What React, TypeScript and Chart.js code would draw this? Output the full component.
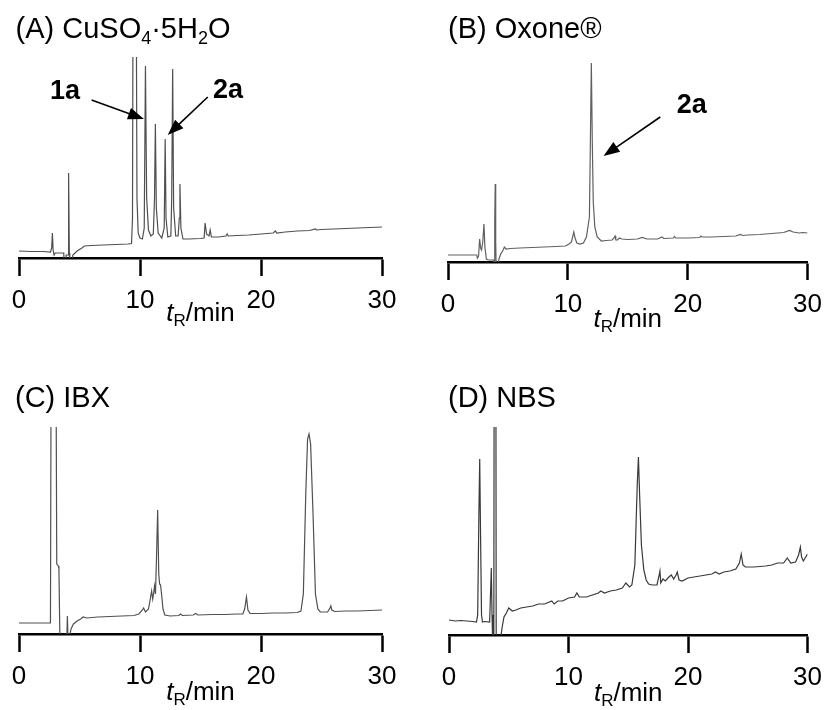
import React, { useEffect, useRef } from 'react';
import { Chart, registerables } from 'chart.js';

Chart.register(...registerables);

const FONT = 'Arial, "Liberation Sans", Helvetica, sans-serif';

// ---- data ----
const timeTicks = [0, 10, 20, 30];
const timeRange = [0, 30];

const titleTextA = ['(A) CuSO', '4', '·5H', '2', 'O'];
const titleTextB = ['(B) Oxone®'];
const titleTextC = ['(C) IBX'];
const titleTextD = ['(D) NBS'];
const axisLabelText = ['t', 'R', '/min'];

// chromatogram traces: [retention time (min), detector signal (a.u.)]
const traceA: [number, number][] = [
  [0, 7], [1, 6.5], [2, 6.5], [2.6, 6], [2.7, 10], [2.76, 25], [2.82, 8], [2.9, 3], [3.0, 5], [3.6, 5],
  [3.7, 5], [3.72, -5], [3.85, -5], [3.9, 3], [4.05, 3], [4.1, 85], [4.16, 5], [4.2, -5], [4.35, -5], [4.45, 3],
  [4.8, 7], [5.2, 10], [5.4, 12], [6, 12.5], [7, 13], [8, 13.5], [9, 14], [9.3, 14.5], [9.38, 40], [9.45, 400],
  [9.65, 400], [9.75, 60], [9.85, 25], [10.0, 20], [10.2, 19], [10.35, 30], [10.45, 192], [10.55, 60], [10.7, 28], [10.9, 22],
  [11.1, 24], [11.2, 60], [11.27, 134], [11.35, 50], [11.5, 25], [11.8, 20], [12.0, 30], [12.08, 119], [12.15, 40], [12.3, 21],
  [12.55, 22], [12.62, 60], [12.7, 189], [12.78, 50], [12.95, 22], [13.15, 22], [13.25, 40], [13.3, 74], [13.38, 30], [13.55, 19],
  [14, 19], [15, 19.5], [15.3, 20], [15.38, 35], [15.5, 24], [15.7, 22], [15.8, 28], [15.9, 21], [16.5, 21], [17.1, 22],
  [17.2, 24], [17.3, 22], [18, 22.5], [19, 23], [20, 24], [21, 25], [21.2, 27], [21.3, 25], [22, 26], [23, 27],
  [24, 27.5], [24.5, 29], [24.6, 28], [25, 28.5], [26, 29], [27, 29.5], [28, 30], [29, 30.5], [30, 31],
];

const traceB: [number, number][] = [
  [0, 7], [1, 7], [2, 7], [2.4, 7], [2.45, 4], [2.55, 6], [2.64, 23], [2.72, 14], [2.8, 12], [2.9, 20],
  [3.0, 38], [3.08, 15], [3.2, 3], [3.35, 2], [3.5, 2], [3.8, 2], [3.85, -5], [3.9, 40], [3.94, 78], [3.98, 20],
  [4.02, -5], [4.15, -5], [4.25, 3], [4.4, 8], [4.6, 12], [4.7, 15], [4.85, 13], [5.2, 13.5], [6, 14], [7, 14.5],
  [8, 15], [9, 15.5], [9.8, 16], [10.1, 18], [10.3, 20], [10.5, 30], [10.6, 24], [10.75, 19], [11, 18], [11.3, 19],
  [11.55, 25], [11.7, 37], [11.8, 45], [11.88, 120], [11.96, 199], [12.04, 120], [12.12, 60], [12.25, 35], [12.45, 25], [12.8, 21],
  [13.2, 21.5], [13.7, 22], [13.85, 24], [13.94, 26], [14.0, 22], [14.15, 22], [14.3, 24], [14.5, 23], [15, 22.5], [15.8, 23],
  [16.2, 24.5], [16.6, 23], [17.5, 23], [17.85, 25], [18, 23.5], [18.8, 24], [18.9, 25.5], [19, 24], [20, 24], [21, 24.5],
  [21.1, 26], [21.2, 25], [22, 25], [23, 25.5], [24, 26], [24.4, 27.5], [24.6, 26.5], [25, 27], [26, 27.5], [27, 28.5],
  [28, 29.5], [28.5, 31.5], [28.8, 30], [29.3, 29], [29.6, 29.5], [30, 29],
];

const traceC: [number, number][] = [
  [0, 11], [1, 11], [2, 11], [2.6, 11], [2.66, 300], [3.05, 300], [3.12, 70], [3.25, 68], [3.3, 65], [3.38, -5],
  [3.95, -5], [4.0, 18], [4.05, -5], [4.15, -5], [4.3, 5], [4.5, 10], [4.8, 13], [5.1, 15], [5.3, 17], [5.6, 16],
  [6.5, 17], [7.5, 17.5], [8.5, 18], [9.5, 18.5], [9.9, 20], [10.2, 24], [10.3, 26], [10.45, 22], [10.7, 25], [10.85, 35],
  [10.96, 43], [11.05, 35], [11.12, 40], [11.2, 48], [11.28, 40], [11.35, 70], [11.46, 124], [11.55, 60], [11.62, 50], [11.7, 49],
  [11.78, 40], [11.9, 25], [12.05, 19], [12.5, 18], [13.2, 18.5], [13.35, 20], [13.5, 18.5], [14.4, 19], [14.6, 20.5], [14.8, 19],
  [16, 19.5], [17, 19.5], [18, 20], [18.5, 20], [18.65, 25], [18.8, 37], [18.92, 24], [19.1, 20.5], [20, 20.5], [21, 21],
  [22, 21], [23, 21.5], [23.3, 23], [23.5, 40], [23.7, 140], [23.85, 195], [23.97, 200], [24.1, 190], [24.3, 120], [24.5, 40],
  [24.7, 25], [24.9, 22], [25.5, 22], [25.7, 26], [25.77, 28], [25.85, 24], [26.1, 22.5], [27, 23], [28, 23], [29, 23.5],
  [30, 24],
];

const traceD: [number, number][] = [
  [0, 15], [0.5, 14], [1, 14.5], [1.5, 14], [2, 13.5], [2.3, 13], [2.4, 20], [2.5, 120], [2.57, 176], [2.64, 100],
  [2.72, 20], [2.8, 13], [3.0, 13.5], [3.4, 13], [3.47, 40], [3.54, 67], [3.6, 20], [3.65, -5], [3.75, -5], [3.78, 300],
  [3.92, 300], [3.95, -5], [4.3, -5], [4.45, 8], [4.6, 18], [4.8, 22], [5.0, 27], [5.1, 26], [5.3, 24], [5.6, 25],
  [6, 27], [6.5, 28], [7, 29], [7.5, 31], [8, 31], [8.6, 34], [8.8, 31], [9.1, 34], [9.5, 34], [10, 37],
  [10.5, 38], [10.7, 42], [10.9, 38], [11.5, 38], [12, 40], [12.5, 42], [12.7, 44], [13, 42], [13.5, 44], [14, 45],
  [14.5, 47], [14.8, 52], [15.1, 48], [15.3, 50], [15.55, 70], [15.75, 150], [15.85, 178], [15.95, 140], [16.1, 90], [16.3, 65],
  [16.5, 55], [16.7, 51], [17, 50], [17.4, 50], [17.55, 58], [17.65, 64], [17.72, 52], [17.9, 56], [18.1, 54], [18.4, 58],
  [18.6, 60], [18.8, 56], [19.0, 60], [19.1, 63], [19.25, 55], [19.5, 54], [20, 57], [20.5, 58], [21, 59], [21.5, 60],
  [22, 61], [22.3, 63], [22.6, 61], [23, 63], [23.5, 64], [24, 66], [24.3, 72], [24.45, 81], [24.6, 70], [24.8, 68],
  [25.5, 68], [26, 68.5], [26.5, 69], [27, 70], [27.5, 72], [28, 72], [28.3, 77], [28.6, 72], [29, 73], [29.25, 80],
  [29.4, 88], [29.5, 78], [29.65, 74], [29.8, 77], [30, 81],
];

// annotations: label, label position, arrow start, arrow tip — in (min, signal) data units
const notesA = [
  { label: '1a', at: [3.8, 166], from: [6.0, 158], to: [10.33, 139] },
  { label: '2a', at: [17.27, 167], from: [15.6, 161], to: [12.29, 123] },
];
const notesB = [
  { label: '2a', at: [20.33, 156], from: [17.71, 145], to: [12.98, 106] },
];

// ---- drawing helpers ----
type Run = { text: string; size: number; dy?: number; italic?: boolean; bold?: boolean };

function fontOf(r: Run) {
  return `${r.italic ? 'italic ' : ''}${r.bold ? 'bold ' : ''}${r.size}px ${FONT}`;
}
function measureRuns(ctx: CanvasRenderingContext2D, runs: Run[]) {
  let w = 0;
  for (const r of runs) { ctx.font = fontOf(r); w += ctx.measureText(r.text).width; }
  return w;
}
function drawRuns(ctx: CanvasRenderingContext2D, runs: Run[], x: number, y: number) {
  for (const r of runs) {
    ctx.font = fontOf(r);
    ctx.fillText(r.text, x, y + (r.dy || 0));
    x += ctx.measureText(r.text).width;
  }
}
function drawArrow(ctx: CanvasRenderingContext2D, x1: number, y1: number, x2: number, y2: number) {
  const a = Math.atan2(y2 - y1, x2 - x1);
  const hl = 16, hw = 6;
  const bx = x2 - hl * Math.cos(a), by = y2 - hl * Math.sin(a);
  ctx.lineWidth = 1.6;
  ctx.beginPath(); ctx.moveTo(x1, y1); ctx.lineTo(bx + 2 * Math.cos(a), by + 2 * Math.sin(a)); ctx.stroke();
  ctx.beginPath();
  ctx.moveTo(x2, y2);
  ctx.lineTo(bx + hw * Math.sin(a), by - hw * Math.cos(a));
  ctx.lineTo(bx - hw * Math.sin(a), by + hw * Math.cos(a));
  ctx.closePath(); ctx.fill();
}

const TITLE = 29, SUB = 18;
const titleRunsA: Run[] = [
  { text: titleTextA[0], size: TITLE }, { text: titleTextA[1], size: SUB, dy: 6 },
  { text: titleTextA[2], size: TITLE }, { text: titleTextA[3], size: SUB, dy: 6 },
  { text: titleTextA[4], size: TITLE },
];
const axisRuns: Run[] = [
  { text: axisLabelText[0], size: 26, italic: true },
  { text: axisLabelText[1], size: 17, dy: 5 },
  { text: axisLabelText[2], size: 26 },
];

interface PanelSpec {
  left: number; top: number; width: number; height: number;
  area: { l: number; r: number; t: number; b: number };
  yMax: number; trace: [number, number][]; color: string;
  title: Run[]; titleX: number; titleY: number; labelDy: number;
  notes: { label: string; at: number[]; from: number[]; to: number[] }[];
}

const panels: PanelSpec[] = [
  { left: 0, top: 0, width: 415, height: 355, area: { l: 19, r: 382, t: 57, b: 258 }, yMax: 201,
    trace: traceA, color: '#505050', title: titleRunsA, titleX: 15.5, titleY: 37.5, labelDy: 63, notes: notesA },
  { left: 415, top: 0, width: 416, height: 355, area: { l: 33, r: 396, t: 62, b: 262 }, yMax: 200,
    trace: traceB, color: '#606060', title: [{ text: titleTextB[0], size: TITLE }], titleX: 33, titleY: 38, labelDy: 65, notes: notesB },
  { left: 0, top: 355, width: 415, height: 355, area: { l: 19, r: 382, t: 72, b: 279 }, yMax: 207,
    trace: traceC, color: '#505050', title: [{ text: titleTextC[0], size: TITLE }], titleX: 15, titleY: 51.7, labelDy: 66, notes: [] },
  { left: 415, top: 355, width: 416, height: 355, area: { l: 34, r: 397, t: 72, b: 280 }, yMax: 208,
    trace: traceD, color: '#383838', title: [{ text: titleTextD[0], size: TITLE }], titleX: 33, titleY: 51.7, labelDy: 66, notes: [] },
];

function Panel({ spec }: { spec: PanelSpec }) {
  const ref = useRef<HTMLCanvasElement>(null);
  useEffect(() => {
    const canvas = ref.current!;
    const scaleH = 62;
    const textPlugin = {
      id: 'panelText',
      afterDraw(chart: any) {
        const ctx: CanvasRenderingContext2D = chart.ctx;
        const xs = chart.scales.x, ys = chart.scales.y;
        const ca = chart.chartArea;
        ctx.save();
        ctx.fillStyle = '#000';
        ctx.strokeStyle = '#000';
        ctx.textAlign = 'left';
        ctx.textBaseline = 'alphabetic';
        drawRuns(ctx, spec.title, spec.titleX, spec.titleY);
        const w = measureRuns(ctx, axisRuns);
        drawRuns(ctx, axisRuns, (ca.left + ca.right) / 2 - w / 2, ca.bottom + spec.labelDy);
        for (const n of spec.notes) {
          drawArrow(ctx, xs.getPixelForValue(n.from[0]), ys.getPixelForValue(n.from[1]),
            xs.getPixelForValue(n.to[0]), ys.getPixelForValue(n.to[1]));
          ctx.font = `bold 27px ${FONT}`;
          ctx.textAlign = 'center';
          ctx.textBaseline = 'middle';
          ctx.fillText(n.label, xs.getPixelForValue(n.at[0]), ys.getPixelForValue(n.at[1]));
          ctx.textAlign = 'left';
          ctx.textBaseline = 'alphabetic';
        }
        ctx.restore();
      },
    };
    const chart = new Chart(canvas, {
      type: 'line',
      data: {
        datasets: [{
          data: spec.trace.map(([x, y]) => ({ x, y })),
          borderColor: spec.color, borderWidth: 1.2, pointRadius: 0, tension: 0, fill: false,
        }],
      },
      options: {
        responsive: false,
        animation: false,
        devicePixelRatio: 1,
        layout: {
          padding: {
            left: spec.area.l, right: spec.width - spec.area.r, top: spec.area.t,
            bottom: spec.height - spec.area.b - scaleH,
          },
        },
        plugins: { legend: { display: false }, tooltip: { enabled: false }, title: { display: false } },
        scales: {
          x: {
            type: 'linear', min: timeRange[0], max: timeRange[1],
            afterFit: (s: any) => { s.height = scaleH; },
            afterBuildTicks: (s: any) => { s.ticks = timeTicks.map((v) => ({ value: v })); },
            ticks: { color: '#000', font: { family: FONT, size: 26 }, padding: 9, maxRotation: 0, autoSkip: false },
            grid: { display: true, drawOnChartArea: false, drawTicks: true, tickLength: 18, tickWidth: 2.5, tickColor: '#000', color: '#000' },
            border: { display: true, color: '#000', width: 2.5 },
          },
          y: { type: 'linear', display: false, min: 0, max: spec.yMax },
        },
      } as any,
      plugins: [textPlugin],
    });
    return () => chart.destroy();
  }, [spec]);
  return (
    <canvas ref={ref} width={spec.width} height={spec.height}
      style={{ position: 'absolute', left: spec.left, top: spec.top, width: spec.width, height: spec.height }} />
  );
}

export default function App() {
  return (
    <div style={{ position: 'absolute', left: 0, top: 0, width: 831, height: 710, background: '#fff', overflow: 'hidden' }}>
      {panels.map((p, i) => <Panel key={i} spec={p} />)}
    </div>
  );
}
